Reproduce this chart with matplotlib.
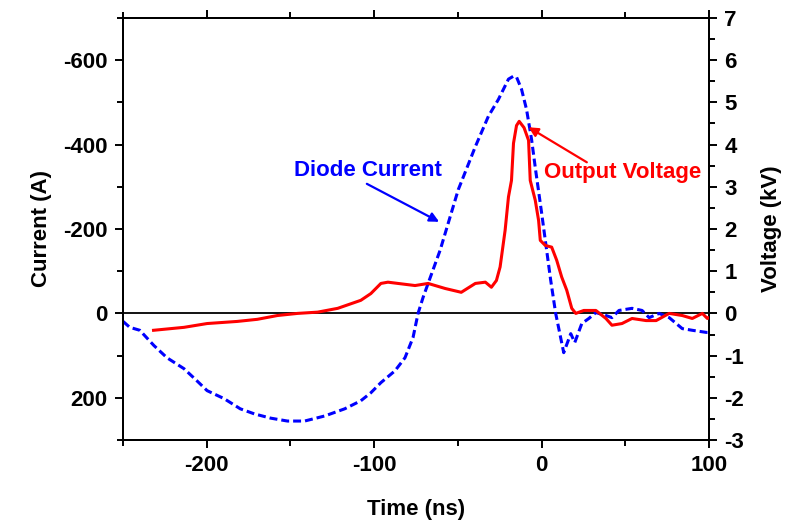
import matplotlib
matplotlib.use("Agg")
import matplotlib.pyplot as plt
from matplotlib.ticker import MultipleLocator

plt.rcParams['font.family'] = ['Liberation Sans', 'DejaVu Sans']
plt.rcParams['font.weight'] = 'bold'
plt.rcParams['axes.unicode_minus'] = False

# Diode current (A) vs time (ns)
t_cur = [-250, -246, -240, -231.6, -223.8, -213.6, -205.8, -199.8, -189.6, -180, -171.6, -162,
         -151.8, -141.6, -129.6, -117.6, -108, -102, -96, -87.6, -81.6, -76.8, -73.8, -70.8,
         -67.8, -60.6, -49.8, -39.6, -31.8, -25.8, -19.8, -16.8, -15, -12, -9, -6, -3.6, 0,
         5.4, 8.4, 13.2, 17.4, 19.8, 24, 28.2, 32.4, 38.4, 42, 46.2, 54, 60, 64.2, 70.2, 76.2,
         84, 90, 98.4, 100]
cur = [19, 33, 40, 76, 105, 131, 160, 183, 202, 226, 238, 248,
       255, 255, 243, 226, 207, 188, 164, 136, 105, 57, 0, -38,
       -71, -150, -293, -395, -467, -507, -555, -562, -560, -531, -483, -412, -340, -238,
       -79, 0, 93, 48, 69, 24, 12, -2, 5, 10, -7, -12, -7, 10, 0, 10,
       36, 40, 45, 45]

# Output voltage (kV) vs time (ns)
t_volt = [-231.8, -213.6, -199.8, -181.8, -169.8, -157.8, -145.8, -133.8, -121.8, -108, -102,
          -96, -91.8, -85.8, -75.6, -67.8, -57.6, -48, -39.6, -33.6, -30, -27, -24.8, -21.8,
          -19.8, -18, -16.8, -15, -13.4, -10.5, -7.8, -6.8, -3.8, -1.8, -0.8, 2.2, 6, 9, 12, 15,
          18, 20.4, 25.2, 32.4, 38.4, 42, 48, 54, 62.4, 68.4, 76.2, 84, 90, 96, 99, 100]
volt = [-0.40, -0.33, -0.24, -0.19, -0.14, -0.05, 0.0, 0.03, 0.12, 0.31, 0.47,
        0.71, 0.74, 0.71, 0.66, 0.71, 0.59, 0.50, 0.71, 0.74, 0.62, 0.78, 1.1, 1.97,
        2.76, 3.15, 4.03, 4.45, 4.55, 4.4, 4.1, 3.15, 2.68, 2.2, 1.73, 1.61, 1.57, 1.26, 0.86, 0.55,
        0.12, 0.0, 0.07, 0.07, -0.12, -0.28, -0.24, -0.12, -0.17, -0.17, 0.0, -0.05, -0.12, 0.0, -0.12, -0.1]

fig = plt.figure(figsize=(7.94, 5.27), dpi=100)
ax = fig.add_axes([0.155, 0.165, 0.738, 0.801])
ax2 = ax.twinx()

ax.plot(t_cur, cur, color='#0000ff', lw=2.2, ls=(0, (2.6, 1.3)), zorder=3)
ax.axhline(0, color='black', lw=1.3, zorder=2)
ax2.plot(t_volt, volt, color='#ff0000', lw=2.2, zorder=3)

ax.set_xlim(-250, 100)
ax.set_ylim(300, -700)
ax2.set_ylim(-3, 7)

ax.xaxis.set_major_locator(MultipleLocator(100))
ax.xaxis.set_minor_locator(MultipleLocator(50))
ax.yaxis.set_major_locator(MultipleLocator(200))
ax.yaxis.set_minor_locator(MultipleLocator(100))
ax2.yaxis.set_major_locator(MultipleLocator(1))
ax2.yaxis.set_minor_locator(MultipleLocator(0.5))

for a in (ax, ax2):
    for s in a.spines.values():
        s.set_linewidth(1.4)
ax.tick_params(axis='x', which='both', direction='out', top=True, bottom=True)
ax.tick_params(axis='y', which='both', direction='out', left=True, right=False)
ax.tick_params(which='major', length=6, width=1.4, labelsize=16, pad=5)
ax.tick_params(which='minor', length=4, width=1.4)
ax2.tick_params(which='major', length=6, width=1.4, labelsize=16, pad=5, direction='out')
ax2.tick_params(which='minor', length=4, width=1.4, direction='out')

ax.set_xlabel('Time (ns)', fontsize=16, fontweight='bold', labelpad=16)
ax.set_ylabel('Current (A)', fontsize=16, fontweight='bold', labelpad=8)
ax2.set_ylabel('Voltage (kV)', fontsize=16, fontweight='bold', labelpad=12)

# Diode Current label + arrow
ax.text(-103.8, -338, 'Diode Current', color='#0000ff', fontsize=16, fontweight='bold',
        ha='center', va='center')
ax.annotate('', xy=(-61.2, -217), xytext=(-104.4, -307),
            arrowprops=dict(arrowstyle='-|>', color='#0000ff', lw=1.6, mutation_scale=14,
                            shrinkA=0, shrinkB=0))
# Output Voltage label + arrow
ax2.text(48.6, 3.34, 'Output Voltage', color='#ff0000', fontsize=16, fontweight='bold',
         ha='center', va='center')
ax2.annotate('', xy=(-7.8, 4.41), xytext=(27, 3.58),
             arrowprops=dict(arrowstyle='-|>', color='#ff0000', lw=1.6, mutation_scale=14,
                             shrinkA=0, shrinkB=0))

fig.savefig('out.png', dpi=100)
